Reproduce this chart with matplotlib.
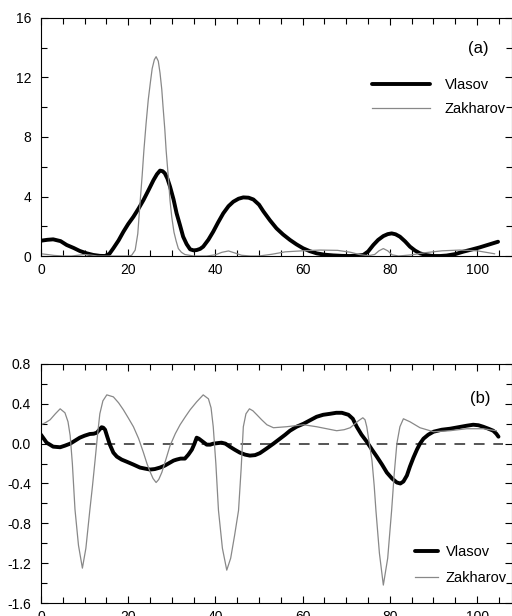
import matplotlib.pyplot as plt
from matplotlib.ticker import MultipleLocator

plt.rcParams['font.family'] = ['Liberation Sans', 'DejaVu Sans']

# Panel (a)
va_x = [0, 1.5, 2.8, 4.5, 5.9, 7.5, 8.9, 10.5, 12, 13.5, 14.7, 15.7, 16.6, 17.8, 18.9, 20, 21.2, 22.4, 23.5,
        24.7, 25.8, 26.6, 27.3, 27.9, 28.4, 29, 29.6, 30.4, 31.1, 31.9, 32.6, 33.4, 34.2, 35, 35.7, 36.5,
        37.2, 38.4, 39.5, 40.6, 41.8, 43, 44.1, 45.3, 46.4, 47.6, 48.7, 50, 51, 52.5, 54, 55.5, 57.1, 58.6,
        60.1, 61.6, 63.2, 65, 67, 69, 70.8, 72.4, 73.9, 75, 76.2, 77.3, 78.5, 79.5, 80.4, 81.3, 82.3, 83.5,
        84.6, 85.8, 86.9, 88.4, 89.9, 91.5, 93, 95, 96.8, 98.7, 100.6, 102.7, 104.8]
va_y = [1.03, 1.09, 1.12, 1.0, 0.74, 0.54, 0.34, 0.18, 0.07, 0.01, 0.0, 0.15, 0.52, 1.05, 1.63, 2.15, 2.64,
        3.2, 3.76, 4.45, 5.1, 5.5, 5.74, 5.7, 5.56, 5.2, 4.66, 3.8, 2.87, 2.05, 1.3, 0.8, 0.45, 0.38, 0.4,
        0.48, 0.63, 1.1, 1.64, 2.25, 2.87, 3.35, 3.65, 3.85, 3.94, 3.92, 3.8, 3.45, 3.0, 2.4, 1.86, 1.45,
        1.08, 0.78, 0.52, 0.33, 0.18, 0.09, 0.04, 0.01, 0.0, 0.02, 0.07, 0.3, 0.74, 1.08, 1.34, 1.47, 1.52,
        1.46, 1.3, 0.98, 0.63, 0.36, 0.18, 0.06, 0.0, 0.0, 0.03, 0.13, 0.29, 0.43, 0.58, 0.77, 0.96]
za_x = [0, 1.5, 3, 5, 7, 8.5, 10, 11.5, 13, 15, 18, 20, 20.8, 21.6, 22.2, 22.7, 23.2, 23.6, 24.1, 24.6, 25.1,
        25.5, 26, 26.4, 26.9, 27.3, 27.7, 28, 28.4, 28.7, 29.2, 29.6, 30, 30.5, 31, 31.5, 32.2, 33, 35, 38,
        40, 41.5, 43, 44.5, 46, 48, 50, 53, 56, 60, 64, 68, 71, 73, 75, 76.5, 77.5, 78.5, 79.5, 80.5, 82,
        85, 88, 92, 96, 100, 104]
za_y = [0.15, 0.1, 0.04, 0.0, 0.0, 0.05, 0.1, 0.06, 0.0, 0.0, 0.0, 0.0, 0.05, 0.4, 1.5, 3.5, 5.4, 7.1, 8.9,
        10.5, 11.7, 12.6, 13.2, 13.4, 13.1, 12.3, 11.2, 10.0, 8.5, 7.1, 5.3, 3.7, 2.6, 1.6, 1.0, 0.5, 0.25,
        0.1, 0.0, 0.0, 0.08, 0.25, 0.34, 0.2, 0.05, 0.0, 0.0, 0.12, 0.28, 0.35, 0.4, 0.38, 0.25, 0.1, 0.02,
        0.1, 0.35, 0.5, 0.35, 0.08, 0.0, 0.08, 0.22, 0.35, 0.4, 0.35, 0.15]

# Panel (b)
vb_x = [0, 1.3, 2.8, 4.4, 5.5, 6.7, 7.8, 8.9, 10, 11.2, 12.1, 12.8, 13.4, 13.9, 14.3, 14.7, 15.2, 15.8, 16.6,
        17.4, 18.5, 19.6, 21.2, 22.7, 23.8, 25, 26.1, 27.3, 28.4, 29.6, 30.4, 31.1, 32, 33, 33.8, 34.6, 35.2,
        35.7, 36.2, 36.8, 37.4, 38, 38.8, 39.5, 40.4, 41.4, 42.3, 43.3, 44.4, 45.6, 46.8, 47.9, 49.1, 50.2,
        51.7, 53.3, 54.8, 56, 57.1, 58.6, 60.2, 61.7, 63.2, 64.7, 66.3, 67.7, 69, 70.5, 71.5, 72.4, 73.5,
        74.7, 75.9, 77, 78.2, 79.3, 80.5, 81.6, 82.4, 83.1, 83.9, 84.6, 85.4, 86.2, 86.9, 87.7, 88.8, 90,
        91.9, 93.8, 95.7, 97.6, 99.1, 100.3, 101.4, 102.6, 103.7, 104.4, 104.9]
vb_y = [0.09, 0.01, -0.03, -0.036, -0.02, 0.0, 0.03, 0.06, 0.08, 0.097, 0.1, 0.11, 0.14, 0.165, 0.16, 0.14,
        0.07, -0.01, -0.09, -0.13, -0.16, -0.18, -0.21, -0.24, -0.25, -0.26, -0.255, -0.24, -0.22, -0.19,
        -0.17, -0.16, -0.15, -0.15, -0.11, -0.06, 0.0, 0.06, 0.05, 0.03, 0.01, -0.01, -0.01, 0.0, 0.005,
        0.01, 0.0, -0.03, -0.06, -0.09, -0.11, -0.12, -0.115, -0.095, -0.05, 0.0, 0.05, 0.09, 0.13, 0.17,
        0.2, 0.235, 0.27, 0.29, 0.3, 0.31, 0.31, 0.29, 0.25, 0.17, 0.09, 0.02, -0.06, -0.13, -0.21, -0.29,
        -0.35, -0.39, -0.4, -0.38, -0.32, -0.23, -0.14, -0.06, 0.0, 0.05, 0.09, 0.12, 0.14, 0.15, 0.165,
        0.18, 0.19, 0.185, 0.17, 0.15, 0.13, 0.1, 0.07]
zb_x = [0, 1, 2.1, 3.3, 4.4, 5.5, 6.2, 6.7, 7.2, 7.8, 8.6, 9.5, 10.3, 11.2, 11.8, 12.4, 13, 13.5, 14.2, 15.1,
        16.6, 17.8, 18.9, 20, 21.2, 22.4, 23.5, 24.3, 25, 25.7, 26.4, 27, 27.7, 28.7, 29.6, 30.8, 31.9,
        33.1, 34.2, 35.7, 37.2, 38.4, 39, 39.5, 40.1, 40.7, 41.6, 42.6, 43.5, 44.4, 45.3, 45.9, 46.4,
        47, 47.8, 48.6, 49.5, 50.6, 51.8, 53.3, 56.3, 60.2, 63.2, 65.5, 67.8, 69.5, 70.9, 72, 72.8, 73.8,
        74.3, 74.7, 75.3, 75.9, 76.4, 76.8, 77.6, 78.5, 79.5, 80.4, 81, 81.6, 82.3, 83.1, 84.6, 86.9, 90,
        93.8, 97.6, 101.4, 104.4]
zb_y = [0.19, 0.21, 0.24, 0.3, 0.35, 0.31, 0.22, 0.08, -0.2, -0.66, -1.02, -1.25, -1.05, -0.67, -0.43, -0.17,
        0.1, 0.3, 0.43, 0.49, 0.47, 0.41, 0.34, 0.26, 0.17, 0.05, -0.09, -0.2, -0.28, -0.35, -0.39, -0.36,
        -0.29, -0.15, -0.02, 0.1, 0.19, 0.27, 0.34, 0.42, 0.49, 0.45, 0.36, 0.17, -0.2, -0.67, -1.05, -1.27,
        -1.15, -0.92, -0.67, -0.25, 0.17, 0.3, 0.35, 0.33, 0.29, 0.24, 0.19, 0.16, 0.17, 0.19, 0.17, 0.15,
        0.13, 0.14, 0.16, 0.2, 0.23, 0.26, 0.24, 0.17, 0.0, -0.17, -0.42, -0.67, -1.1, -1.42, -1.15, -0.67,
        -0.3, 0.0, 0.17, 0.25, 0.22, 0.16, 0.12, 0.13, 0.15, 0.15, 0.13]

fig = plt.figure(figsize=(5.12, 6.16), dpi=100)
ax1 = fig.add_axes([0.080, 0.5844, 0.920, 0.3864])
ax2 = fig.add_axes([0.080, 0.0211, 0.920, 0.3880])

ax1.plot(va_x, va_y, color='black', lw=2.8, label='Vlasov', solid_capstyle='round')
ax1.plot(za_x, za_y, color='#888888', lw=0.9, label='Zakharov')
ax1.set_xlim(0, 108)
ax1.set_ylim(0, 16)
ax1.set_yticks([0, 4, 8, 12, 16])
fig.text(478 / 512, 1 - 49 / 616, '(a)', fontsize=12, ha='center', va='center')
ax1.legend(loc='upper left', bbox_to_anchor=(372 / 512, 1 - 78 / 616), bbox_transform=fig.transFigure,
           frameon=False, fontsize=10.5, handlelength=4.0, handletextpad=1.0, labelspacing=0.7,
           borderpad=0, borderaxespad=0)

ax2.plot([10, 106], [0, 0], color='#555555', lw=1.4, ls=(0, (5.5, 4.5)))
ax2.plot(vb_x, vb_y, color='black', lw=2.8, label='Vlasov', solid_capstyle='round')
ax2.plot(zb_x, zb_y, color='#888888', lw=0.9, label='Zakharov')
ax2.set_xlim(0, 108)
ax2.set_ylim(-1.6, 0.8)
ax2.set_yticks([-1.6, -1.2, -0.8, -0.4, 0.0, 0.4, 0.8])
ax2.yaxis.set_major_formatter(plt.FormatStrFormatter('%.1f'))
fig.text(480 / 512, 1 - 398 / 616, '(b)', fontsize=12, ha='center', va='center')
ax2.legend(loc='upper left', bbox_to_anchor=(415 / 512, 1 - 545 / 616), bbox_transform=fig.transFigure,
           frameon=False, fontsize=10.5, handlelength=1.6, handletextpad=0.5, labelspacing=0.85,
           borderpad=0, borderaxespad=0)

for ax, minor in [(ax1, 2), (ax2, 0.2)]:
    ax.set_xticks([0, 20, 40, 60, 80, 100])
    ax.xaxis.set_minor_locator(MultipleLocator(5))
    ax.yaxis.set_minor_locator(MultipleLocator(minor))
    ax.tick_params(which='both', direction='in', top=True, right=True, labelsize=10)
    ax.tick_params(axis='x', pad=5)
    ax.tick_params(axis='y', pad=7)
    ax.tick_params(which='major', length=5, width=0.8)
    ax.tick_params(which='minor', length=4, width=0.8)

plt.savefig('out.png', dpi=100)
